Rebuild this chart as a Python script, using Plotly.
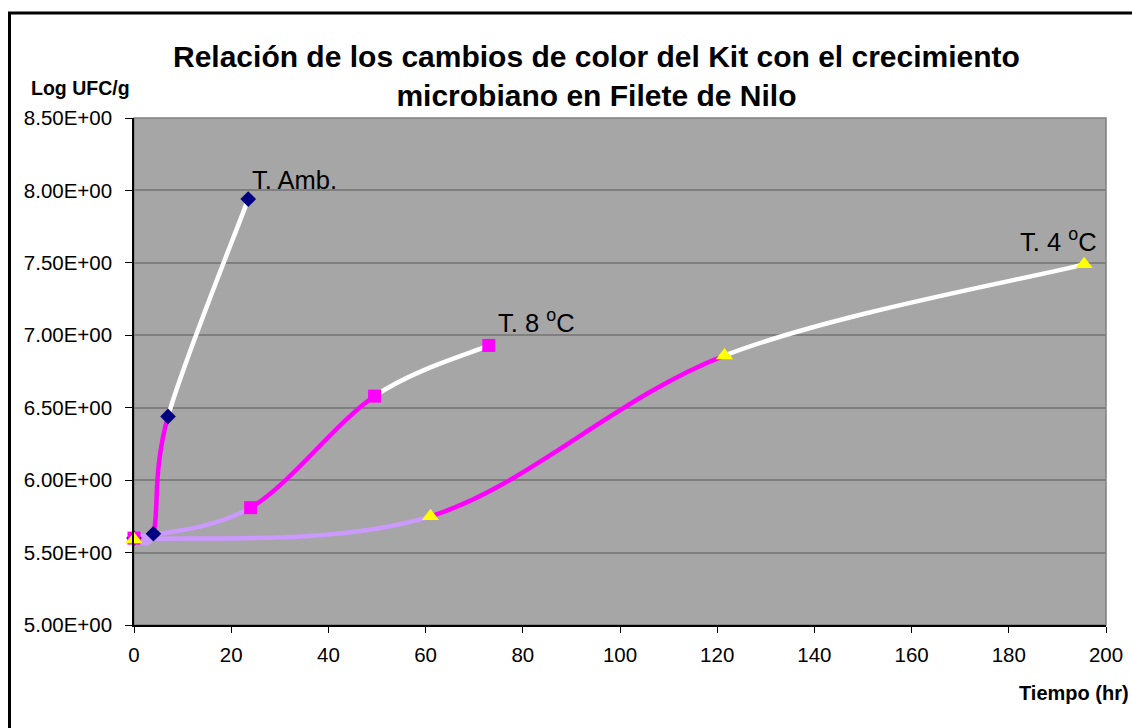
import plotly.graph_objects as go

# Tiempo (hr) and Log UFC/g for each storage condition
amb_t = [0, 4, 7, 23.5]
amb_log = [5.60, 5.63, 6.44, 7.94]

t8_t = [0, 24, 49.5, 73]
t8_log = [5.60, 5.81, 6.58, 6.93]

t4_t = [0, 61, 121.5, 195.5]
t4_log = [5.59, 5.75, 6.86, 7.49]

# kit colour shown along each interval between samples
segment_colors = ["#CC99FF", "#FF00FF", "#FFFFFF"]

y_ticks = [5.0, 5.5, 6.0, 6.5, 7.0, 7.5, 8.0, 8.5]
y_tick_text = ["5.00E+00", "5.50E+00", "6.00E+00", "6.50E+00",
               "7.00E+00", "7.50E+00", "8.00E+00", "8.50E+00"]
x_ticks = list(range(0, 201, 20))

W, H = 1132, 728
L, R, T, B = 134, 1106, 118, 625


def px(xp):
    return (xp - L) / (R - L)


def py(yp):
    return (B - yp) / (B - T)


def smooth_segments(xs, ys):
    """Cubic Bezier pieces (Catmull-Rom style smoothing) between consecutive points."""
    n = len(xs)
    pieces = []
    for i in range(n - 1):
        x0, y0 = xs[max(i - 1, 0)], ys[max(i - 1, 0)]
        x1, y1 = xs[i], ys[i]
        x2, y2 = xs[i + 1], ys[i + 1]
        x3, y3 = xs[min(i + 2, n - 1)], ys[min(i + 2, n - 1)]
        c1 = (x1 + (x2 - x0) / 6, y1 + (y2 - y0) / 6)
        c2 = (x2 - (x3 - x1) / 6, y2 - (y3 - y1) / 6)
        pieces.append(f"M {x1},{y1} C {c1[0]},{c1[1]} {c2[0]},{c2[1]} {x2},{y2}")
    return pieces


shapes = []
for xs, ys in [(amb_t, amb_log), (t8_t, t8_log), (t4_t, t4_log)]:
    for k, path in enumerate(smooth_segments(xs, ys)):
        shapes.append(dict(type="path", path=path, xref="x", yref="y",
                           line=dict(color=segment_colors[k], width=4.5),
                           layer="between"))

# plot area frame (top/right edges)
shapes.append(dict(type="rect", xref="paper", yref="paper", x0=0, x1=1, y0=0, y1=1,
                   line=dict(color="#808080", width=1.5), layer="below"))
# outer chart border (top and left edges)
shapes.append(dict(type="path", xref="paper", yref="paper",
                   path=f"M {px(9.5)},{py(728)} L {px(9.5)},{py(13)} L {px(1132)},{py(13)}",
                   line=dict(color="black", width=3)))

fig = go.Figure()
fig.add_trace(go.Scatter(x=amb_t, y=amb_log, mode="markers", name="T. Amb.", cliponaxis=False,
                         marker=dict(symbol="diamond", size=12, color="#000080",
                                     line=dict(width=0))))
fig.add_trace(go.Scatter(x=t8_t, y=t8_log, mode="markers", name="T. 8 oC", cliponaxis=False,
                         marker=dict(symbol="square", size=13, color="#FF00FF",
                                     line=dict(width=0))))
fig.add_trace(go.Scatter(x=t4_t, y=t4_log, mode="markers", name="T. 4 oC", cliponaxis=False,
                         marker=dict(symbol="triangle-up", size=15, color="#FFFF00",
                                     line=dict(width=0))))

font_family = "Liberation Sans, Arial, sans-serif"
annotations = [
    dict(text="<b>Relación de los cambios de color del Kit con el crecimiento<br>microbiano en Filete de Nilo</b>",
         xref="paper", yref="paper", x=px(596), y=py(76), xanchor="center", yanchor="middle",
         showarrow=False, font=dict(family=font_family, size=30, color="black")),
    dict(text="<b>Log UFC/g</b>", xref="paper", yref="paper", x=px(29), y=py(88),
         xanchor="left", yanchor="middle", showarrow=False,
         font=dict(family=font_family, size=19.5, color="black")),
    dict(text="<b>Tiempo (hr)</b>", xref="paper", yref="paper", x=px(1130), y=py(693),
         xanchor="right", yanchor="middle", showarrow=False, borderpad=0,
         font=dict(family=font_family, size=20, color="black")),
    dict(text="T. Amb.", xref="x", yref="y", x=amb_t[-1] + 0.3, y=amb_log[-1] + 0.13,
         xanchor="left", yanchor="middle", showarrow=False,
         font=dict(family=font_family, size=25.5, color="black")),
    dict(text="T. 8 <sup>o</sup>C", xref="x", yref="y", x=t8_t[-1] + 1.5, y=t8_log[-1] + 0.17,
         xanchor="left", yanchor="middle", showarrow=False,
         font=dict(family=font_family, size=25.5, color="black")),
    dict(text="T. 4 <sup>o</sup>C", xref="x", yref="y", x=t4_t[-1] + 3.0, y=t4_log[-1] + 0.17,
         xanchor="right", yanchor="middle", showarrow=False,
         font=dict(family=font_family, size=25.5, color="black")),
]

fig.update_layout(
    width=W, height=H,
    margin=dict(l=L, r=W - R, t=T, b=H - B, autoexpand=False),
    paper_bgcolor="white", plot_bgcolor="#A6A6A6",
    showlegend=False,
    shapes=shapes, annotations=annotations,
    font=dict(family=font_family, size=20, color="black"),
)
fig.update_xaxes(range=[0, 200], tickvals=x_ticks, showgrid=False, zeroline=False,
                 showline=True, linecolor="black", linewidth=1.5,
                 ticks="outside", ticklen=6, tickcolor="black", automargin=False,
                 ticklabelstandoff=5,
                 tickfont=dict(family=font_family, size=20.5, color="black"), fixedrange=True)
fig.update_yaxes(range=[5.0, 8.5], tickvals=y_ticks, ticktext=y_tick_text,
                 showgrid=True, gridcolor="#7F7F7F", gridwidth=1.5, zeroline=False,
                 showline=True, linecolor="black", linewidth=1.5,
                 ticks="outside", ticklen=7, tickcolor="black", automargin=False,
                 ticklabelstandoff=9,
                 tickfont=dict(family=font_family, size=20.5, color="black"), fixedrange=True)

fig.write_html("out.html")
